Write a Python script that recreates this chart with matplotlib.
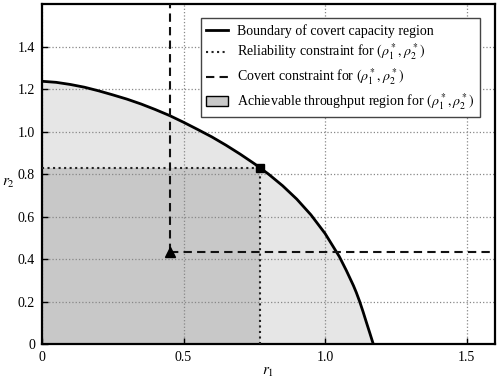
import numpy as np
import matplotlib
matplotlib.use("Agg")
import matplotlib.pyplot as plt
from matplotlib.patches import Patch
from matplotlib.lines import Line2D

# boundary of covert capacity region
r1_bound = [0.0, 0.05, 0.1, 0.15, 0.2, 0.25, 0.3, 0.35, 0.4, 0.45, 0.5, 0.55,
            0.6, 0.65, 0.7, 0.75, 0.8, 0.85, 0.9, 0.95, 1.0, 1.05, 1.075, 1.1,
            1.11, 1.122, 1.134, 1.146, 1.158, 1.170]
r2_bound = [1.237, 1.232, 1.222, 1.209, 1.192, 1.173, 1.153, 1.130, 1.104, 1.076,
            1.044, 1.010, 0.975, 0.936, 0.894, 0.849, 0.800, 0.745, 0.682, 0.608,
            0.520, 0.412, 0.346, 0.275, 0.243, 0.200, 0.152, 0.101, 0.051, 0.0]

# optimal point (rho1*, rho2*) and covert constraint corner
r1_star, r2_star = 0.77, 0.831
r1_cov, r2_cov = 0.451, 0.435

xticks = [0, 0.5, 1.0, 1.5]
xtick_labels = ["0", "0.5", "1.0", "1.5"]
yticks = [0, 0.2, 0.4, 0.6, 0.8, 1.0, 1.2, 1.4]
ytick_labels = ["0", "0.2", "0.4", "0.6", "0.8", "1.0", "1.2", "1.4"]

plt.rcParams["font.family"] = ["Liberation Serif", "DejaVu Serif"]
plt.rcParams["mathtext.fontset"] = "stix"
plt.rcParams["font.size"] = 10

fig = plt.figure(figsize=(4.98, 3.79), dpi=100)
ax = fig.add_axes([0.0843, 0.0923, 0.9097, 0.8967])

light = "#e6e6e6"
dark = "#c8c8c8"

ax.fill_between(r1_bound, r2_bound, 0, color=light, lw=0, zorder=0.5)
ax.fill_between([0, r1_star], [r2_star, r2_star], 0, color=dark, lw=0, zorder=0.6)

ax.plot(r1_bound, r2_bound, color="black", lw=2.0, zorder=3, solid_joinstyle="round")
ax.plot([0, r1_star, r1_star], [r2_star, r2_star, 0], color="#222222", ls=":", lw=1.5, zorder=3)
ax.plot([r1_cov, r1_cov], [r2_cov, 1.6], color="#111111", ls="--", lw=1.5, dashes=(4, 2.5), zorder=3)
ax.plot([r1_cov, 1.6], [r2_cov, r2_cov], color="#111111", ls="--", lw=1.5, dashes=(4, 2.5), zorder=3)
ax.plot([r1_star], [r2_star], marker="s", color="black", ms=6, zorder=4)
ax.plot([r1_cov], [r2_cov], marker="^", color="black", ms=7, zorder=4)

ax.set_xlim(0, 1.6)
ax.set_ylim(0, 1.6)
ax.set_xticks(xticks)
ax.set_xticklabels(xtick_labels)
ax.set_yticks(yticks)
ax.set_yticklabels(ytick_labels)
ax.tick_params(direction="in", length=4, width=1, pad=5, labelsize=10)
ax.grid(True, ls=":", color="#888888", lw=0.9)
for s in ax.spines.values():
    s.set_linewidth(1.6)

ax.set_xlabel("$r_1$", fontsize=11, labelpad=0)
ax.xaxis.set_label_coords(0.5, -0.065)
ax.set_ylabel("$r_2$", fontsize=11, rotation=0, va="center", ha="center")
ax.yaxis.set_label_coords(-0.075, 0.471)

handles = [
    Line2D([], [], color="black", lw=2.0),
    Line2D([], [], color="#222222", ls=":", lw=1.5),
    Line2D([], [], color="#111111", ls="--", lw=1.5, dashes=(4, 2.5)),
    Patch(facecolor=dark, edgecolor="black", lw=1.0),
]
labels = [
    "Boundary of covert capacity region",
    r"Reliability constraint for $(\rho_1^*, \rho_2^*)$",
    r"Covert constraint for $(\rho_1^*, \rho_2^*)$",
    r"Achievable throughput region for $(\rho_1^*, \rho_2^*)$",
]
leg = ax.legend(handles, labels, loc="upper right", bbox_to_anchor=(0.967, 0.958),
                fontsize=10, fancybox=False, framealpha=1, edgecolor="#444444",
                handlelength=1.6, handletextpad=0.6, borderpad=0.4, labelspacing=0.3,
                borderaxespad=0)
leg.get_frame().set_linewidth(1.0)

fig.savefig("out.png", dpi=100)
